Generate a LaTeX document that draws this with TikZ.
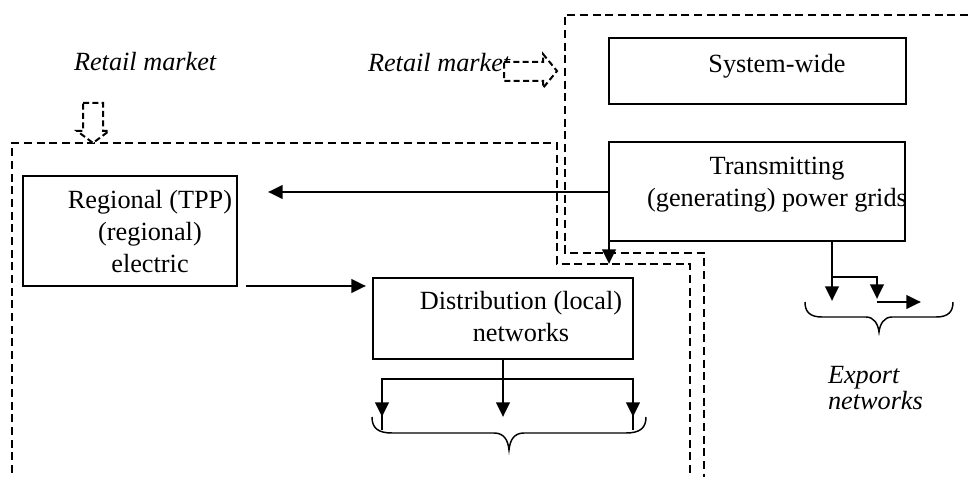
\documentclass[tikz,border=0pt]{standalone}
\usepackage{fontspec}
\setmainfont{Liberation Serif}
\usetikzlibrary{arrows.meta}

\begin{document}
\begin{tikzpicture}[x=0.75pt,y=-0.75pt,
  every node/.style={inner sep=0pt, outer sep=0pt},
  base/.style={font=\fontsize{19.7}{24}\selectfont},
  box/.style={draw, line width=1.1pt, inner sep=0pt},
  txt/.style={base, anchor=base},
  note/.style={base, font=\fontsize{19.7}{24}\selectfont\itshape, anchor=base west},
  flow/.style={line width=2.2pt, -{Triangle[length=11pt,width=10pt]}},
  link/.style={line width=2.2pt},
  zone/.style={line width=1.9pt, dash pattern=on 6pt off 3.5pt},
  hollow/.style={line width=1.5pt, dash pattern=on 4.5pt off 2.5pt, fill=white, line join=miter},
  curly/.style={line width=1.1pt}
]
\useasboundingbox (0,0) rectangle (968,477);

% market zones
\draw[zone] (968,15) -- (565,15) -- (565,253) -- (704,253) -- (704,477);
\draw[zone] (12,473) -- (12,143) -- (557,143) -- (557,264) -- (690,264) -- (690,477);

% boxes
\node[box, minimum width=222.75pt, minimum height=49.5pt] (sys) at (757.5,71) {};
\node[box, minimum width=222pt, minimum height=74.25pt] (trans) at (757,191.5) {};
\node[box, minimum width=160.5pt, minimum height=82.5pt] (reg) at (130,231) {};
\node[box, minimum width=195pt, minimum height=60.75pt] (dist) at (503,318.5) {};

% box texts
\node[txt] (systxt) at (777,73) {System-wide};
\node[txt] (transA) at (777,175) {Transmitting};
\node[txt] (transB) at (777,207) {(generating) power grids};
\node[txt] (regA) at (150,209) {Regional (TPP)};
\node[txt] (regB) at (150,241) {(regional)};
\node[txt] (regC) at (150,273) {electric};
\node[txt] (distA) at (521,310) {Distribution (local)};
\node[txt] (distB) at (521,342) {networks};

% retail market labels and hollow arrows
\node[note] (retailL) at (74,71) {Retail market};
\node[note] (retailR) at (368,72) {Retail market};
\draw[hollow] (504,62) -- (543,62) -- (543,54) -- (557,71) -- (543,88) -- (543,81) -- (504,81) -- cycle;
\draw[hollow] (83,103) -- (103,103) -- (103,131) -- (109,131) -- (93,143) -- (77,131) -- (83,131) -- cycle;

% transmitting grid outputs
\coordinate (tj) at (trans.west |- 0,192);
\coordinate (regin) at (268,192);
\coordinate (tdown) at (609,264);
\draw[flow] (tj) -- (regin);
\draw[flow] (tj) -- (tdown);

% regional to distribution
\coordinate (regout) at (246,286);
\coordinate (distin) at (366,286);
\draw[flow] (regout) -- (distin);

% distribution fan-out
\coordinate (dbar) at (dist.south |- 0,379);
\coordinate (dl) at (382,417);
\coordinate (dm) at (dist.south |- 0,417);
\coordinate (dr) at (633,417);
\draw[flow] (dist.south) -- (dm);
\draw[link] (dbar) -| ([yshift=-10pt]dl);
\draw[flow] (dl |- dbar) -- (dl);
\draw[link] (dbar) -| ([yshift=-10pt]dr);
\draw[flow] (dr |- dbar) -- (dr);

% export outputs
\coordinate (ex) at (trans.south -| 832,0);
\coordinate (exj) at (832,277);
\coordinate (exa) at (832,301);
\coordinate (exb) at (877,299);
\coordinate (exc) at (877,302);
\coordinate (exd) at (921,302);
\draw[flow] (ex) -- (exa);
\draw[flow] (exj) -| (exb);
\draw[flow] (exc) -- (exd);

% braces
\draw[curly] (372,417) .. controls (372,428) and (378,433) .. (392,433)
  -- (494,433) .. controls (504,433) and (508,440) .. (509,450)
  .. controls (510,440) and (514,433) .. (524,433)
  -- (626,433) .. controls (640,433) and (646,428) .. (646,417);
\draw[curly] (805,302) .. controls (805,312) and (810,317) .. (822,317)
  -- (866,317) .. controls (874,317) and (878,324) .. (879,332)
  .. controls (880,324) and (884,317) .. (892,317)
  -- (936,317) .. controls (948,317) and (953,312) .. (953,302);

\node[note] (expA) at (828,383) {Export};
\node[note] (expB) at (828,409) {networks};
\end{tikzpicture}
\end{document}
